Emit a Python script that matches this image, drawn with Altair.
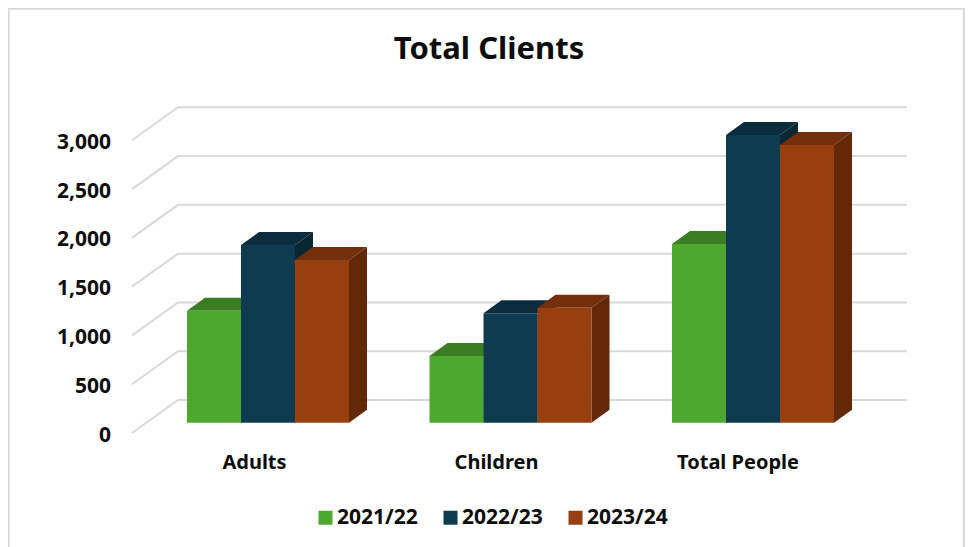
import altair as alt
import pandas as pd

categories = ["Adults", "Children", "Total People"]
series = ["2021/22", "2022/23", "2023/24"]
values_2122 = [1148, 684, 1831]
values_2223 = [1821, 1121, 2949]
values_2324 = [1667, 1179, 2846]
y_ticks = [0, 500, 1000, 1500, 2000, 2500, 3000]
front_colors = ["#4EA72E", "#0E3B50", "#973F0E"]
top_colors = ["#3B7D23", "#0A2C3C", "#732F0B"]
side_colors = ["#336B1E", "#092733", "#622808"]
GRID = "#D9D9D9"
FONT = "Noto Sans"
INK = "#0D0D0D"

# chart frame and the linear scales (page pixel -> data helpers)
W, H = 957, 539
STEP = 242.5      # px per category
PXV = 0.09757     # px per client
CX0 = 268.0       # page x of first cluster centre
BASE = 422.7      # page y of value 0 on the bars' front plane


def X(px):
    return (px - CX0) / STEP


def V(py):
    return (BASE - py) / PXV


x_scale = alt.Scale(domain=[X(8), X(8 + W)], range=[0, W], nice=False, zero=False)
y_scale = alt.Scale(domain=[V(8 + H), V(8)], range=[H, 0], nice=False, zero=False)
xq = lambda f="x": alt.X(f"{f}:Q", scale=x_scale, axis=None, title=None)
yq = lambda f="y": alt.Y(f"{f}:Q", scale=y_scale, axis=None, title=None)

BAR_W = 54 / STEP
DX = 18 / STEP
DY = 13 / PXV
all_values = [values_2122, values_2223, values_2324]

# gridlines: floor/wall polyline for every tick
BACK = V(400)
GDX_L, GDX_R = X(132), X(178)
GXR = X(907)
FRONT_DV = V(433) - V(400)
grid_rows = []
for t in y_ticks:
    grid_rows += [
        {"t": t, "o": 0, "x": GDX_L, "y": t + BACK + FRONT_DV},
        {"t": t, "o": 1, "x": GDX_R, "y": t + BACK},
        {"t": t, "o": 2, "x": GXR, "y": t + BACK},
    ]
grid = alt.Chart(pd.DataFrame(grid_rows)).mark_line(color=GRID, strokeWidth=2).encode(
    x=xq(), y=yq(), detail="t:N", order="o:Q"
)

# y tick labels
ylab = pd.DataFrame(
    {
        "x": [X(111)] * len(y_ticks),
        "y": [t + V(435.5) for t in y_ticks],
        "label": [f"{t:,}" for t in y_ticks],
    }
)
ytext = alt.Chart(ylab).mark_text(
    align="right", baseline="middle", font=FONT, fontSize=21, fontWeight="bold", color=INK
).encode(x=xq(), y=yq(), text="label:N")

# category labels
xlab = pd.DataFrame(
    {"x": [X(254.5), X(496.5), X(738)], "y": [V(462.5)] * 3, "label": categories}
)
xtext = alt.Chart(xlab).mark_text(
    align="center", baseline="middle", font=FONT, fontSize=20, fontWeight="bold", color=INK
).encode(x=xq(), y=yq(), text="label:N")

# title
title = alt.Chart(pd.DataFrame({"x": [X(489)], "y": [V(50)], "label": ["Total Clients"]})).mark_text(
    align="center", baseline="middle", font=FONT, fontSize=31, fontWeight="bold", color=INK
).encode(x=xq(), y=yq(), text="label:N")

# frame
fx0, fx1 = 0.5, 956
frame = [
    alt.Chart(pd.DataFrame({"a": [0]})).mark_rule(color=GRID, strokeWidth=2.4).encode(
        x=alt.value(fx0), y=alt.value(0), y2=alt.value(H)
    ),
    alt.Chart(pd.DataFrame({"a": [0]})).mark_rule(color=GRID, strokeWidth=2.4).encode(
        x=alt.value(fx1), y=alt.value(0), y2=alt.value(H)
    ),
    alt.Chart(pd.DataFrame({"a": [0]})).mark_rule(color=GRID, strokeWidth=2.4).encode(
        x=alt.value(0), x2=alt.value(fx1), y=alt.value(0.5)
    ),
]

layers = frame + [grid]
for s, (name, vals) in enumerate(zip(series, all_values)):
    fronts, tops, sides = [], [], []
    for c, v in enumerate(vals):
        left = c + (s - 1.5) * BAR_W
        right = left + BAR_W
        fronts.append({"series": name, "l": left, "r": right, "v": v, "z": 0})
        tops += [
            {"g": c, "y": v, "x": left, "x2": right},
            {"g": c, "y": v + DY, "x": left + DX, "x2": right + DX},
        ]
        sides += [
            {"g": c, "x": right, "y": 0, "y2": v},
            {"g": c, "x": right + DX, "y": DY, "y2": v + DY},
        ]
    side = alt.Chart(pd.DataFrame(sides)).mark_area(
        color=side_colors[s], orient="vertical", opacity=1
    ).encode(x=xq(), y=yq(), y2="y2:Q", detail="g:N")
    top = alt.Chart(pd.DataFrame(tops)).mark_area(
        color=top_colors[s], orient="horizontal", opacity=1
    ).encode(x=xq(), x2="x2:Q", y=yq(), detail="g:N")
    front = alt.Chart(pd.DataFrame(fronts)).mark_rect().encode(
        x=xq("l"),
        x2="r:Q",
        y=yq("v"),
        y2="z:Q",
        color=alt.Color(
            "series:N",
            scale=alt.Scale(domain=series, range=front_colors),
            legend=alt.Legend(
                title=None,
                orient="none",
                legendX=307,
                legendY=499,
                direction="horizontal",
                columns=3,
                symbolType="square",
                symbolSize=196,
                symbolStrokeWidth=0,
                labelFont=FONT,
                labelFontSize=21,
                labelFontWeight="bold",
                labelColor=INK,
                columnPadding=22,
                labelOffset=1,
            ),
        ),
    )
    layers += [side, top, front]

layers += [ytext, xtext, title]

chart = alt.layer(*layers).properties(
    width=W,
    height=H,
    padding=0,
    autosize=alt.AutoSizeParams(type="none"),
    background="white",
).configure_view(stroke=None)

chart.save("out.html", embed_options={"renderer": "svg", "actions": False})
